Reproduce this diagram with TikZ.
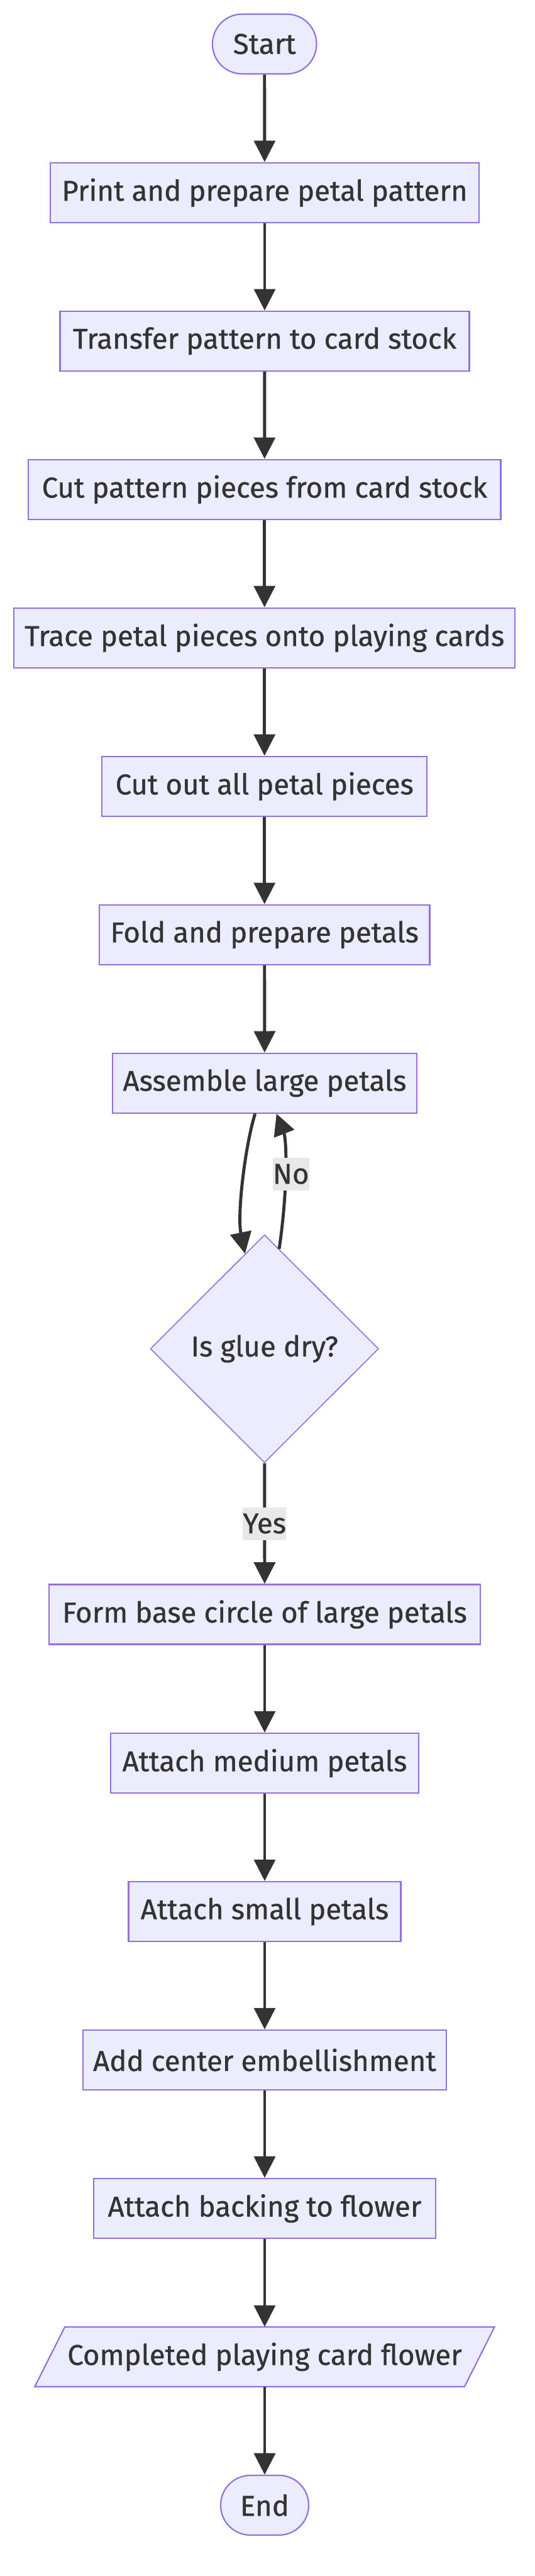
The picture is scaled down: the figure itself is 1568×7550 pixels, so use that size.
\documentclass[tikz,border=0pt]{standalone}
\usepackage{fontspec}
\setmainfont{Fira Sans}[FakeBold=0.7]
\usetikzlibrary{arrows.meta,shapes.geometric}
\definecolor{nodefill}{HTML}{ECECFF}
\definecolor{nodeline}{HTML}{9370DB}
\definecolor{textcol}{HTML}{333333}
\definecolor{lblbg}{HTML}{E8E8E8}
\newcommand{\nodefont}{\fontsize{42pt}{50pt}\selectfont}
\begin{document}
\begin{tikzpicture}[x=0.5pt,y=-0.5pt,
  stepbox/.style={draw=nodeline, fill=nodefill, line width=2pt, minimum height=87.5pt,
    inner sep=0pt, text=textcol, font=\nodefont},
  termbox/.style={stepbox, rounded corners=43.5pt},
  decbox/.style={draw=nodeline, fill=nodefill, line width=1.5pt, diamond, aspect=1,
    minimum width=334.5pt, minimum height=334pt, inner sep=0pt, text=textcol, font=\nodefont},
  textonly/.style={inner sep=0pt, minimum height=87.5pt, text=textcol, font=\nodefont},
  lbl/.style={fill=lblbg, inner sep=0pt, text=textcol, font=\nodefont, minimum height=48pt},
  arr/.style={draw=textcol, line width=4.5pt,
    -{Triangle[length=31.5pt,width=31pt]}},
  plainline/.style={draw=textcol, line width=4.5pt}
]
\useasboundingbox (0,0) rectangle (1568,7550);

% nodes
\node[termbox, minimum width=152.5pt] (start) at (775.5,129) {Start};
\node[stepbox, minimum width=629pt] (print) at (776,564.5) {Print and prepare petal pattern};
\node[stepbox, minimum width=600pt] (transfer) at (776,999.5) {Transfer pattern to card stock};
\node[stepbox, minimum width=692.5pt] (cutpat) at (775.5,1434.5) {Cut pattern pieces from card stock};
\node[stepbox, minimum width=734.5pt] (trace) at (775.5,1869.5) {Trace petal pieces onto playing cards};
\node[stepbox, minimum width=476.5pt] (cutout) at (775.5,2304.5) {Cut out all petal pieces};
\node[stepbox, minimum width=484.5pt] (fold) at (775.5,2739.5) {Fold and prepare petals};
\node[stepbox, minimum width=446pt] (assemble) at (776,3174.5) {Assemble large petals};
\node[decbox] (dry) at (775.5,3953) {Is glue dry?};
\node[stepbox, minimum width=632pt] (form) at (776,4731.5) {Form base circle of large petals};
\node[stepbox, minimum width=451pt] (medium) at (776,5167.5) {Attach medium petals};
\node[stepbox, minimum width=399pt] (small) at (776,5602.5) {Attach small petals};
\node[stepbox, minimum width=533pt] (center) at (776,6037.5) {Add center embellishment};
\node[stepbox, minimum width=501pt] (backing) at (776,6472.5) {Attach backing to flower};
\path[draw=nodeline, fill=nodefill, line width=2pt]
  (190,6820) -- (1450,6820) -- (1362,6995) -- (102,6995) -- cycle;
\node[textonly, minimum width=630pt] (done) at (776,6907.5) {Completed playing card flower};
\node[termbox, minimum width=129pt] (end) at (776,7342.5) {End};

% connectors
\draw[arr] (start) -- (print);
\draw[arr] (print) -- (transfer);
\draw[arr] (transfer) -- (cutpat);
\draw[arr] (cutpat) -- (trace);
\draw[arr] (trace) -- (cutout);
\draw[arr] (cutout) -- (fold);
\draw[arr] (fold) -- (assemble);
\draw[arr] (assemble) .. controls (718,3360) and (695,3560) .. (dry);
\draw[arr] (dry) .. controls (845,3480) and (840,3340) .. (assemble);
\draw[arr] (dry) -- (form);
\draw[arr] (form) -- (medium);
\draw[arr] (medium) -- (small);
\draw[arr] (small) -- (center);
\draw[arr] (center) -- (backing);
\draw[arr] (backing) -- (done);
\draw[arr] (done) -- (end);

% edge labels
\node[lbl, minimum width=49pt] (nolbl) at (853,3441) {No};
\node[lbl, minimum width=58.5pt] (yeslbl) at (775.5,4465.5) {Yes};
\end{tikzpicture}
\end{document}
